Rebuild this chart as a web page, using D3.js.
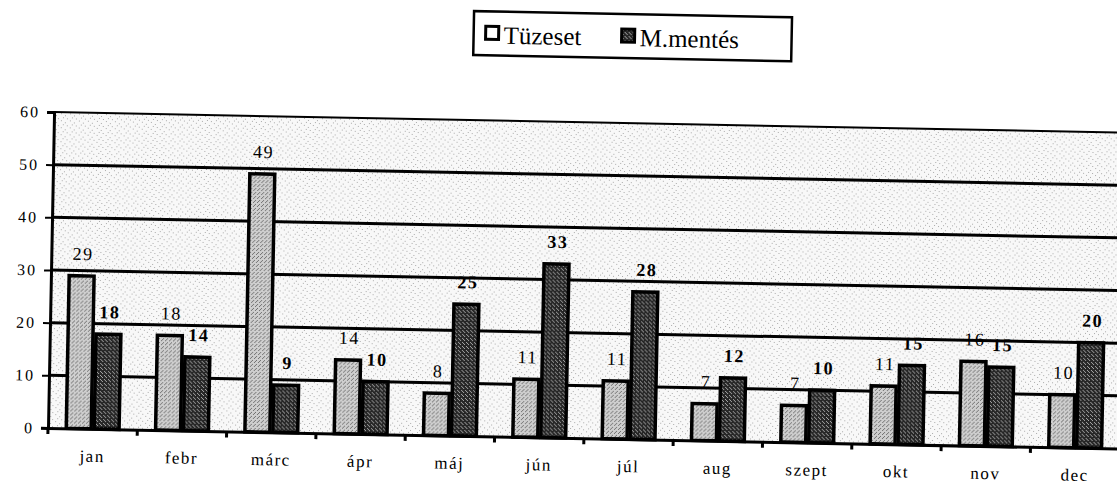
<!doctype html>
<html lang="hu">
<head>
  <meta charset="UTF-8">
  <title>Tüzeset / M.mentés</title>
  <script src="https://cdnjs.cloudflare.com/ajax/libs/d3/7.8.5/d3.min.js"></script>
  <style>
  body { margin: 0; background: #fff; }
  svg { display: block; }
  </style>
</head>
<body>
<script>

var months = ["jan", "febr", "márc", "ápr", "máj", "jún", "júl", "aug", "szept", "okt", "nov", "dec"];
var seriesNames = ["Tüzeset", "M.mentés"];
var tuzeset = [29, 18, 49, 14, 8, 11, 11, 7, 7, 11, 16, 10];
var mmentes = [18, 14, 9, 10, 25, 33, 28, 12, 10, 15, 15, 20];
var yTicks = [0, 10, 20, 30, 40, 50, 60];

var w = 1117, h = 482;
var serif = '"Liberation Serif", "Times New Roman", serif';
// plot box (before the tilt)
var pLeft = 48, pRight = 1120, pTop = 112, pBottom = 428;

var svg = d3.select('body').append('svg')
  .attr('width', w)
  .attr('height', h);

var defs = svg.append('defs');

// stippled background of the plot
var bg = defs.append('pattern').attr('id', 'bgdots')
  .attr('width', 9).attr('height', 7).attr('patternUnits', 'userSpaceOnUse');
bg.append('rect').attr('width', 9).attr('height', 7).attr('fill', '#f8f8f8');
[[1, 1], [5, 3], [3, 5], [7, 6]].forEach(function(p) {
  bg.append('rect').attr('x', p[0]).attr('y', p[1]).attr('width', 1).attr('height', 1).attr('fill', '#aaa');
});

// light bars
var lp = defs.append('pattern').attr('id', 'light')
  .attr('width', 4).attr('height', 4).attr('patternUnits', 'userSpaceOnUse');
lp.append('rect').attr('width', 4).attr('height', 4).attr('fill', '#cfcfcf');
[[0, 0], [2, 2], [3, 1]].forEach(function(p) {
  lp.append('rect').attr('x', p[0]).attr('y', p[1]).attr('width', 1).attr('height', 1).attr('fill', '#6e6e6e');
});

// dark bars
var dp = defs.append('pattern').attr('id', 'dark')
  .attr('width', 4).attr('height', 4).attr('patternUnits', 'userSpaceOnUse');
dp.append('rect').attr('width', 4).attr('height', 4).attr('fill', '#262626');
[[1, 0], [3, 2], [0, 3]].forEach(function(p) {
  dp.append('rect').attr('x', p[0]).attr('y', p[1]).attr('width', 1).attr('height', 1).attr('fill', '#aaa');
});

// the scan is tilted a little, so the whole chart is turned with it
var g = svg.append('g').attr('transform', 'rotate(1.1,' + pLeft + ',' + pBottom + ')');

var x = d3.scaleBand().domain(months).range([pLeft, pRight]).paddingInner(0).paddingOuter(0);
var xs = d3.scaleBand().domain(seriesNames).range([0, x.bandwidth()]).paddingInner(0).paddingOuter(0.6);
var y = d3.scaleLinear().domain([0, 60]).range([pBottom, pTop]);

g.append('rect')
  .attr('x', pLeft).attr('y', pTop)
  .attr('width', pRight - pLeft).attr('height', pBottom - pTop)
  .attr('fill', 'url(#bgdots)');

// gridlines
g.selectAll('line.grid')
  .data(yTicks.slice(1))
  .enter()
  .append('line')
  .attr('class', 'grid')
  .attr('x1', pLeft).attr('x2', pRight)
  .attr('y1', function(d) { return y(d); })
  .attr('y2', function(d) { return y(d); })
  .attr('stroke', '#000')
  .attr('stroke-width', function(d) { return d === 60 ? 2 : 3; });

// y axis
var yAxis = d3.axisLeft(y).tickValues(yTicks).tickSize(7).tickPadding(7);
var ya = g.append('g').attr('transform', 'translate(' + pLeft + ',0)').call(yAxis);
ya.select('.domain').attr('stroke', '#000').attr('stroke-width', 3);
ya.selectAll('.tick line').attr('stroke', '#000').attr('stroke-width', 2);
ya.selectAll('.tick text')
  .attr('font-size', 16).attr('font-family', serif)
  .attr('letter-spacing', 2).attr('fill', '#000');

// bars
var rows = months.map(function(m, i) {
  return [{ m: m, s: seriesNames[0], v: tuzeset[i] }, { m: m, s: seriesNames[1], v: mmentes[i] }];
});

var groups = g.selectAll('g.month')
  .data(rows)
  .enter()
  .append('g')
  .attr('class', 'month')
  .attr('transform', function(d) { return 'translate(' + x(d[0].m) + ',0)'; });

groups.selectAll('rect')
  .data(function(d) { return d; })
  .enter()
  .append('rect')
  .attr('x', function(d) { return xs(d.s) + 1.5; })
  .attr('y', function(d) { return y(d.v); })
  .attr('width', xs.bandwidth() - 3)
  .attr('height', function(d) { return y(0) - y(d.v); })
  .attr('fill', function(d) { return d.s === seriesNames[0] ? 'url(#light)' : 'url(#dark)'; })
  .attr('stroke', '#000')
  .attr('stroke-width', 3.5);

groups.selectAll('text')
  .data(function(d) { return d; })
  .enter()
  .append('text')
  .attr('x', function(d) { return xs(d.s) + xs.bandwidth() / 2 + 1; })
  .attr('y', function(d) { return y(d.v) - 16; })
  .attr('text-anchor', 'middle')
  .attr('font-family', serif)
  .attr('font-size', 18)
  .attr('letter-spacing', 1.5)
  .attr('fill', '#000')
  .attr('font-weight', function(d) { return d.s === seriesNames[1] ? 'bold' : 'normal'; })
  .text(function(d) { return d.v; });

// x axis
var xAxis = d3.axisBottom(x).tickSize(0).tickPadding(21);
var xa = g.append('g').attr('transform', 'translate(0,' + pBottom + ')').call(xAxis);
xa.select('.domain').attr('stroke', '#000').attr('stroke-width', 3);
xa.selectAll('.tick text')
  .attr('font-size', 17).attr('font-family', serif)
  .attr('letter-spacing', 1.5).attr('fill', '#000');

g.selectAll('line.xt')
  .data(months)
  .enter()
  .append('line')
  .attr('class', 'xt')
  .attr('x1', function(d) { return x(d); })
  .attr('x2', function(d) { return x(d); })
  .attr('y1', pBottom).attr('y2', pBottom + 6)
  .attr('stroke', '#000').attr('stroke-width', 3);

// legend
var lg = g.append('g').attr('transform', 'translate(466,3)');
lg.append('rect')
  .attr('width', 318).attr('height', 44)
  .attr('fill', '#fff').attr('stroke', '#000').attr('stroke-width', 2.5);

var items = lg.selectAll('g.item')
  .data(seriesNames)
  .enter()
  .append('g')
  .attr('class', 'item')
  .attr('transform', function(d, i) { return 'translate(' + (12 + i * 136) + ',0)'; });

items.append('rect')
  .attr('x', 0).attr('y', 15)
  .attr('width', 13).attr('height', 13)
  .attr('fill', function(d, i) { return i === 0 ? '#fff' : 'url(#dark)'; })
  .attr('stroke', '#000').attr('stroke-width', 3);

items.append('text')
  .attr('x', 18).attr('y', 32)
  .attr('font-family', serif)
  .attr('font-size', 25)
  .attr('fill', '#000')
  .text(function(d) { return d; });

</script>
</body>
</html>
